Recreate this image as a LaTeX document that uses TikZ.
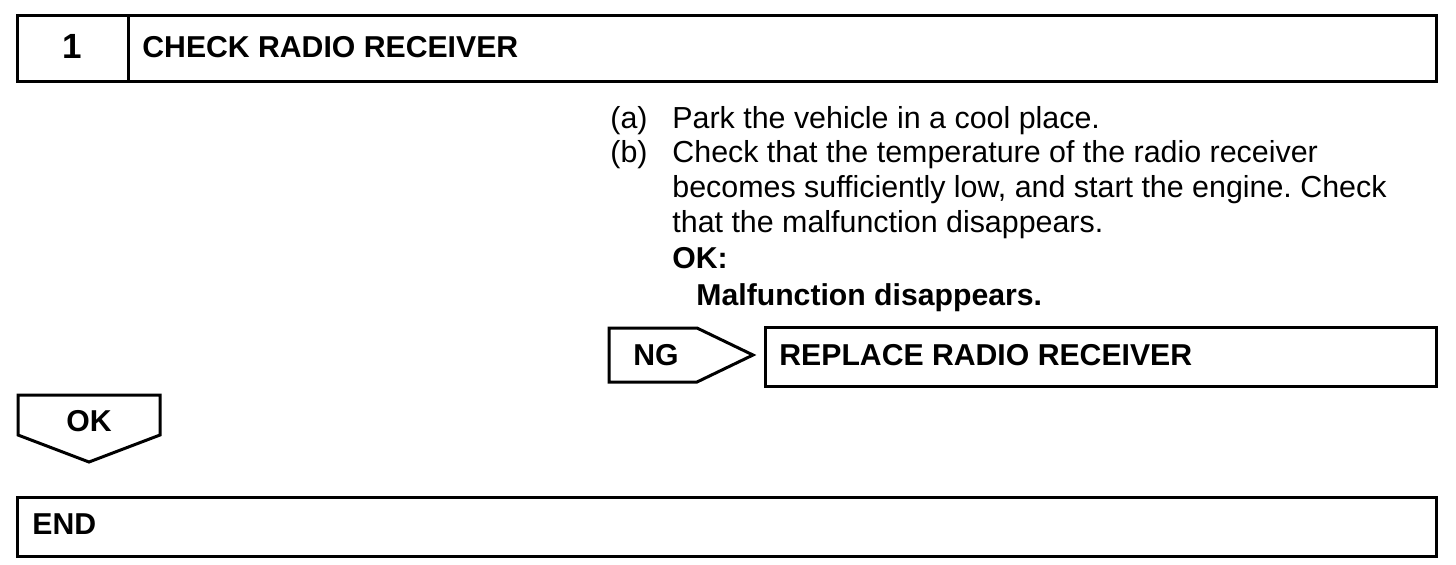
\documentclass[tikz,border=0pt]{standalone}
\usepackage{fontspec}
\setmainfont{Liberation Sans}
\usetikzlibrary{positioning}
\frenchspacing

\tikzset{
    frame/.style={draw=black, line width=1.5pt},
    headtext/.style={anchor=base west, inner sep=0pt, font=\fontsize{15.1}{18}\selectfont\bfseries},
    bodytext/.style={anchor=base west, inner sep=0pt, font=\fontsize{15.2}{18}\selectfont}
}

\begin{document}
\begin{tikzpicture}[x=0.5pt, y=-0.5pt]
            \useasboundingbox (0,0) rectangle (1456,564);
            % step title
            \draw[frame] (17,15) rectangle (1436,81);
            \draw[frame] (128,15) -- (128,81);
            \node[headtext, anchor=base, font=\fontsize{17.5}{18}\selectfont\bfseries] (stepno) at (72,58) {1};
            \node[headtext] (steptitle) at (142,57) {CHECK RADIO RECEIVER};
            % procedure
            \node[bodytext] (itema) at (610,128) {(a)};
            \node[bodytext] (texta) at (672,128) {Park the vehicle in a cool place.};
            \node[bodytext] (itemb) at (610,162) {(b)};
            \node[bodytext] (textb1) at (672,162) {Check that the temperature of the radio receiver};
            \node[bodytext] (textb2) at (672,197) {becomes sufficiently low, and start the engine. Check};
            \node[bodytext] (textb3) at (672,232) {that the malfunction disappears.};
            \node[headtext] (okhead) at (672,268) {OK:};
            \node[headtext] (okspec) at (696,305) {Malfunction disappears.};
            % NG branch
            \draw[frame, line join=miter] (609,328) -- (697,328) -- (753,355) -- (697,382) -- (609,382) -- cycle;
            \node[headtext] (ng) at (633,365) {NG};
            \draw[frame] (765,327) rectangle (1436,386);
            \node[headtext] (replace) at (779,365) {REPLACE RADIO RECEIVER};
            % OK branch
            \draw[frame, line join=miter] (18,395) -- (160,395) -- (160,435) -- (89,462) -- (18,435) -- cycle;
            \node[headtext, anchor=base] (ok) at (89,431) {OK};
            \draw[frame] (17,497) rectangle (1436,556);
            \node[headtext] (finish) at (32,534) {END};
        \end{tikzpicture}
\end{document}
